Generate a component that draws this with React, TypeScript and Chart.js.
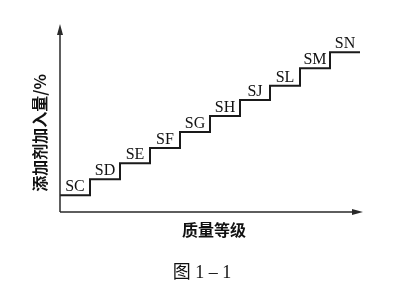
import React, { useEffect, useRef } from 'react';
import { Chart, registerables } from 'chart.js';

Chart.register(...registerables);

const grades = ['SC', 'SD', 'SE', 'SF', 'SG', 'SH', 'SJ', 'SL', 'SM', 'SN'];
const additive = [1.05, 2.05, 3.05, 4.0, 5.0, 6.0, 7.0, 7.9, 9.0, 10.0];
const yTitle = '添加剂加入量/%';
const xTitle = '质量等级';
const caption = '图 1 – 1';

export default function App() {
  const ref = useRef<HTMLCanvasElement>(null);

  useEffect(() => {
    if (!ref.current) return;
    const pts = additive.map((v, i) => ({ x: i, y: v }));
    pts.push({ x: additive.length, y: additive[additive.length - 1] });

    const decor = {
      id: 'decor',
      afterDraw(chart: any) {
        const ctx = chart.ctx as CanvasRenderingContext2D;
        const { left, right, top, bottom } = chart.chartArea;
        const xs = chart.scales.x;
        const ys = chart.scales.y;
        ctx.save();
        // axes
        ctx.strokeStyle = '#2a2a2a';
        ctx.fillStyle = '#2a2a2a';
        ctx.lineWidth = 1.5;
        ctx.beginPath();
        ctx.moveTo(left, bottom);
        ctx.lineTo(left, top + 4);
        ctx.moveTo(left, bottom);
        ctx.lineTo(right - 4, bottom);
        ctx.stroke();
        // arrows
        ctx.beginPath();
        ctx.moveTo(left, top - 1);
        ctx.lineTo(left - 3, top + 10);
        ctx.lineTo(left + 3, top + 10);
        ctx.closePath();
        ctx.fill();
        ctx.beginPath();
        ctx.moveTo(right + 3, bottom);
        ctx.lineTo(right - 8, bottom - 3);
        ctx.lineTo(right - 8, bottom + 3);
        ctx.closePath();
        ctx.fill();

        // step labels
        ctx.fillStyle = '#111';
        ctx.font = '16px "Liberation Serif", serif';
        ctx.textAlign = 'center';
        ctx.textBaseline = 'alphabetic';
        grades.forEach((g, i) => {
          const cx = xs.getPixelForValue(i + 0.5);
          const cy = ys.getPixelForValue(additive[i]);
          ctx.fillText(g, cx, cy - 4);
        });

        // axis titles
        ctx.font = 'bold 16px "Noto Sans CJK SC", sans-serif';
        ctx.textBaseline = 'middle';
        ctx.fillText(xTitle, 214, 230);
        ctx.save();
        ctx.translate(40, 133);
        ctx.rotate(-Math.PI / 2);
        ctx.fillText(yTitle, 0, 0);
        ctx.restore();

        // caption
        ctx.font = '18px "Liberation Serif", "Noto Sans CJK SC", serif';
        ctx.fillText(caption, 202, 273);
        ctx.restore();
      },
    };

    const chart = new Chart(ref.current, {
      type: 'line',
      data: {
        datasets: [
          {
            data: pts,
            stepped: 'before',
            borderColor: '#1a1a1a',
            borderWidth: 2,
            pointRadius: 0,
            fill: false,
          } as any,
        ],
      },
      options: {
        animation: false,
        responsive: false,
        layout: { padding: { left: 60, right: 46, top: 25, bottom: 78 } },
        plugins: { legend: { display: false }, tooltip: { enabled: false } },
        scales: {
          x: { type: 'linear', min: 0, max: 10, display: false },
          y: { type: 'linear', min: 0, max: 11.7, display: false },
        },
      },
      plugins: [decor],
    });
    return () => chart.destroy();
  }, []);

  return (
    <div style={{ position: 'fixed', left: 0, top: 0, width: 406, height: 290, background: '#fff' }}>
      <canvas ref={ref} width={406} height={290} style={{ width: 406, height: 290, display: 'block' }} />
    </div>
  );
}
